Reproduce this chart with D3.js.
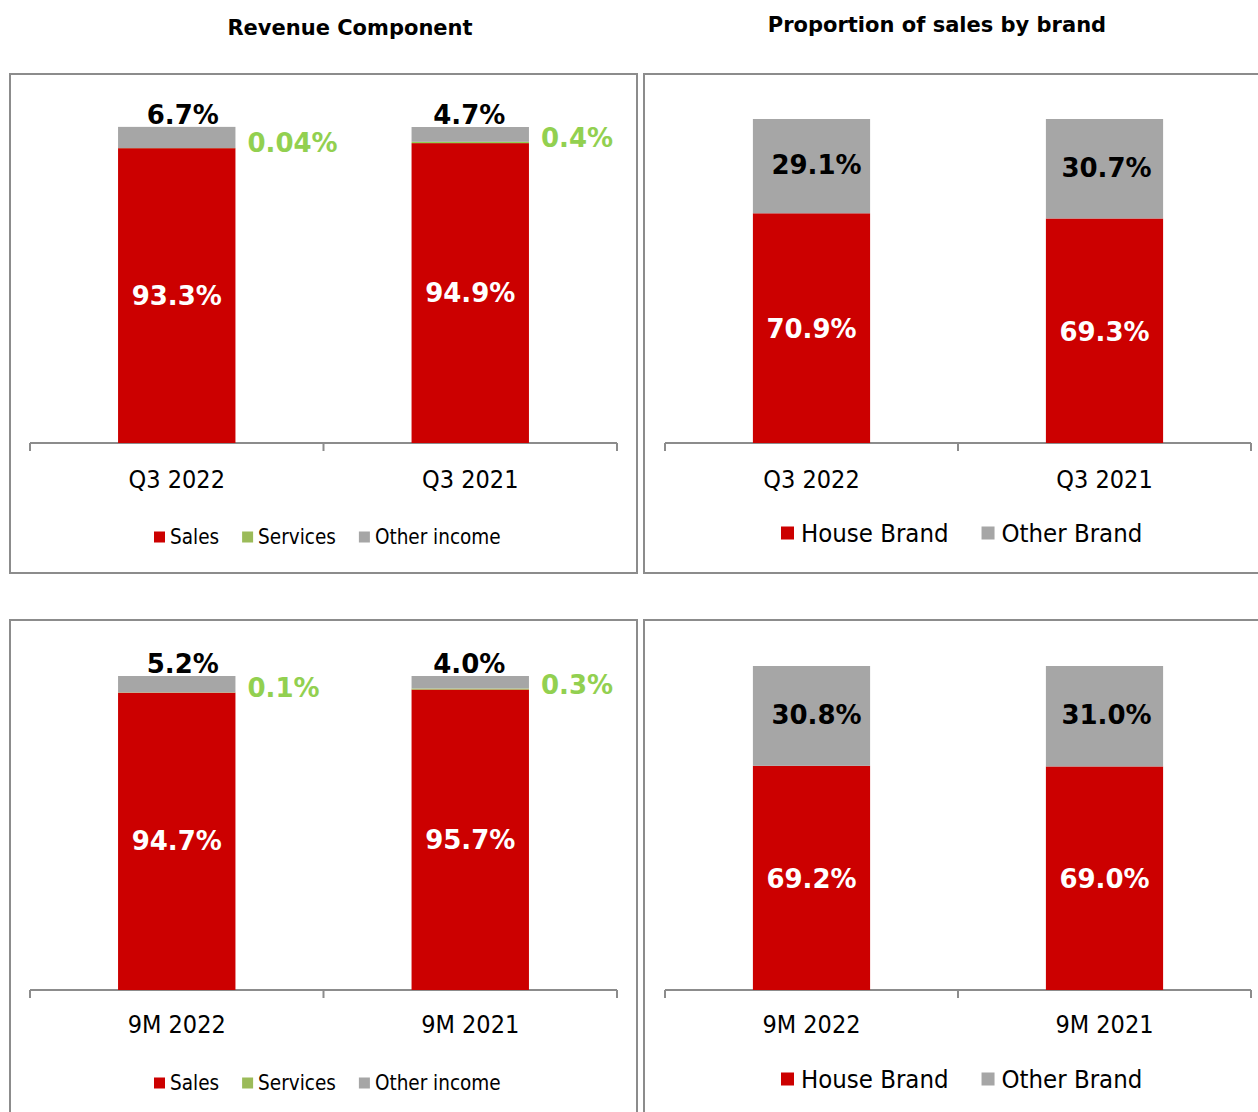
<!DOCTYPE html>
<html>
<head>
<meta charset="utf-8">
<script src="https://cdn.jsdelivr.net/npm/d3@7"></script>
<style>
  body { margin: 0; background: #fff; }
  svg { display: block; }
  .cond { font-family: "DejaVu Sans Condensed", "DejaVu Sans", sans-serif; font-stretch: condensed; }
  .bold { font-family: "DejaVu Sans", Verdana, sans-serif; font-weight: bold; }
</style>
</head>
<body>
<div id="chart"></div>
<script>
// data
var q3Periods = ["Q3 2022", "Q3 2021"];
var ytdPeriods = ["9M 2022", "9M 2021"];

var q3Sales = [93.3, 94.9];
var q3Services = [0.04, 0.4];
var q3Other = [6.7, 4.7];

var ytdSales = [94.7, 95.7];
var ytdServices = [0.1, 0.3];
var ytdOther = [5.2, 4.0];

var q3House = [70.9, 69.3];
var q3OtherBrand = [29.1, 30.7];

var ytdHouse = [69.2, 69.0];
var ytdOtherBrand = [30.8, 31.0];

var revenueSeries = ["Sales", "Services", "Other income"];
var brandSeries = ["House Brand", "Other Brand"];

var RED = "#cc0000", GRAY = "#a6a6a6", GREEN = "#9bbb59", GREEN_LABEL = "#92d050";

var width = 1258, height = 1112;

var svg = d3.select("#chart").append("svg")
  .attr("width", width)
  .attr("height", height);

function fmt(v) {
  return (v < 0.1 ? v.toFixed(2) : v.toFixed(1)) + "%";
}

svg.append("text")
  .attr("class", "bold")
  .attr("x", 350).attr("y", 28)
  .attr("text-anchor", "middle")
  .attr("dominant-baseline", "central")
  .style("font-size", "21px")
  .text("Revenue Component");

svg.append("text")
  .attr("class", "bold")
  .attr("x", 937).attr("y", 25)
  .attr("text-anchor", "middle")
  .attr("dominant-baseline", "central")
  .style("font-size", "21px")
  .text("Proportion of sales by brand");

// draws frame, axis, category labels and legend; returns scales
function drawPanel(p) {
  var g = svg.append("g");

  g.append("rect")
    .attr("x", p.frame[0]).attr("y", p.frame[1])
    .attr("width", p.frame[2]).attr("height", p.frame[3])
    .attr("fill", "none")
    .attr("stroke", "#8c8c8c")
    .attr("stroke-width", 2);

  var x = d3.scaleBand()
    .domain(p.periods)
    .range(p.xRange)
    .padding(0);

  var y = d3.scaleLinear()
    .domain([0, 100])
    .range([p.axisY, p.axisY - p.plotH]);

  // axis line with tick marks between categories
  g.append("line")
    .attr("x1", p.xRange[0]).attr("x2", p.xRange[1])
    .attr("y1", p.axisY).attr("y2", p.axisY)
    .attr("stroke", "#8c8c8c").attr("stroke-width", 2);

  var tickXs = p.periods.map(function (d) { return x(d); }).concat([p.xRange[1]]);
  g.selectAll(".tick")
    .data(tickXs)
    .enter().append("line")
    .attr("x1", function (d) { return d; })
    .attr("x2", function (d) { return d; })
    .attr("y1", p.axisY)
    .attr("y2", p.axisY + 8)
    .attr("stroke", "#8c8c8c").attr("stroke-width", 2);

  g.selectAll(".cat")
    .data(p.periods)
    .enter().append("text")
    .attr("class", "cond")
    .attr("x", function (d) { return x(d) + x.bandwidth() / 2; })
    .attr("y", p.catY)
    .attr("text-anchor", "middle")
    .attr("dominant-baseline", "central")
    .style("font-size", "25px")
    .style("fill", "#000")
    .text(function (d) { return d; });

  // legend
  var lx = p.legendX;
  p.legend.forEach(function (name, i) {
    g.append("rect")
      .attr("x", lx)
      .attr("y", p.legendY - p.swatch / 2)
      .attr("width", p.swatch).attr("height", p.swatch)
      .attr("fill", p.legendColors[i]);
    var t = g.append("text")
      .attr("class", "cond")
      .attr("x", lx + p.swatch + p.textGap)
      .attr("y", p.legendY)
      .attr("dominant-baseline", "central")
      .style("font-size", p.legendSize + "px")
      .text(name);
    lx += p.swatch + p.textGap + t.node().getComputedTextLength() + p.itemGap;
  });

  return { g: g, x: x, y: y };
}

function drawRevenue(p) {
  p.legend = revenueSeries;
  p.legendColors = [RED, GREEN, GRAY];
  p.swatch = 11; p.textGap = 5; p.itemGap = 23; p.legendSize = 20.5;
  var s = drawPanel(p);
  var x = s.x, y = s.y, g = s.g;

  var rows = p.periods.map(function (d, i) {
    return { period: d, sales: p.sales[i], services: p.services[i], other: p.other[i] };
  });
  var stack = d3.stack().keys(["sales", "services", "other"])(rows);
  var colors = { sales: RED, services: GREEN_LABEL, other: GRAY };

  var bw = x.bandwidth() * 0.4;
  var cx = function (d) { return x(d.data.period) + x.bandwidth() / 2; };

  g.selectAll(".layer")
    .data(stack)
    .enter().append("g")
    .attr("fill", function (d) { return colors[d.key]; })
    .selectAll("rect")
    .data(function (d) { return d; })
    .enter().append("rect")
    .attr("x", function (d) { return cx(d) - bw / 2; })
    .attr("y", function (d) { return y(d[1]); })
    .attr("width", bw)
    .attr("height", function (d) { return y(d[0]) - y(d[1]); });

  // sales labels (white, inside)
  g.selectAll(".salesLbl")
    .data(stack[0])
    .enter().append("text")
    .attr("class", "bold")
    .attr("x", cx)
    .attr("y", function (d) { return (y(d[0]) + y(d[1])) / 2; })
    .attr("text-anchor", "middle")
    .attr("dominant-baseline", "central")
    .style("font-size", "26px")
    .style("fill", "#fff")
    .text(function (d) { return fmt(d.data.sales); });

  // services labels (green, right of bar)
  g.selectAll(".servLbl")
    .data(stack[1])
    .enter().append("text")
    .attr("class", "bold")
    .attr("x", function (d) { return cx(d) + bw / 2 + 12; })
    .attr("y", function (d) { return y(d[0]) - 5; })
    .attr("dominant-baseline", "central")
    .style("font-size", "26px")
    .style("fill", GREEN_LABEL)
    .text(function (d) { return fmt(d.data.services); });

  // other income labels (black, above bar)
  g.selectAll(".otherLbl")
    .data(stack[2])
    .enter().append("text")
    .attr("class", "bold")
    .attr("x", function (d, i) { return cx(d) + p.otherDx[i]; })
    .attr("y", function (d) { return y(d[1]) - 3; })
    .attr("text-anchor", "middle")
    .style("font-size", "26px")
    .style("fill", "#000")
    .text(function (d) { return fmt(d.data.other); });
}

function drawBrand(p) {
  p.legend = brandSeries;
  p.legendColors = [RED, GRAY];
  p.swatch = 13; p.textGap = 7; p.itemGap = 33; p.legendSize = 25.5;
  var s = drawPanel(p);
  var x = s.x, y = s.y, g = s.g;

  var rows = p.periods.map(function (d, i) {
    return { period: d, house: p.house[i], otherBrand: p.otherBrand[i] };
  });
  var stack = d3.stack().keys(["house", "otherBrand"])(rows);
  var colors = { house: RED, otherBrand: GRAY };
  var labelColors = { house: "#fff", otherBrand: "#000" };
  var labelShift = { house: [0, 0], otherBrand: [5, 2] };

  var bw = x.bandwidth() * 0.4;
  var cx = function (d) { return x(d.data.period) + x.bandwidth() / 2; };

  var layers = g.selectAll(".layer")
    .data(stack)
    .enter().append("g");

  layers.selectAll("rect")
    .data(function (d) { return d; })
    .enter().append("rect")
    .attr("x", function (d) { return cx(d) - bw / 2; })
    .attr("y", function (d) { return y(d[1]); })
    .attr("width", bw)
    .attr("height", function (d) { return y(d[0]) - y(d[1]); })
    .attr("fill", function () { return colors[this.parentNode.__data__.key]; });

  layers.each(function (layer) {
    d3.select(this).selectAll("text")
      .data(layer)
      .enter().append("text")
      .attr("class", "bold")
      .attr("x", function (d, i) { return cx(d) + labelShift[layer.key][i]; })
      .attr("y", function (d) { return (y(d[0]) + y(d[1])) / 2 + (layer.key === "otherBrand" ? -1 : 1); })
      .attr("text-anchor", "middle")
      .attr("dominant-baseline", "central")
      .style("font-size", "26px")
      .style("fill", labelColors[layer.key])
      .text(function (d) { return fmt(d.data[layer.key]); });
  });
}

drawRevenue({
  frame: [10, 74, 627, 499], periods: q3Periods,
  sales: q3Sales, services: q3Services, other: q3Other,
  xRange: [30, 617], axisY: 443, plotH: 316, catY: 479,
  legendX: 154, legendY: 537, otherDx: [6, -1]
});

drawRevenue({
  frame: [10, 620, 627, 520], periods: ytdPeriods,
  sales: ytdSales, services: ytdServices, other: ytdOther,
  xRange: [30, 617], axisY: 990, plotH: 314, catY: 1024,
  legendX: 154, legendY: 1083, otherDx: [6, -1]
});

drawBrand({
  frame: [644, 74, 640, 499], periods: q3Periods,
  house: q3House, otherBrand: q3OtherBrand,
  xRange: [665, 1251], axisY: 443, plotH: 324, catY: 479,
  legendX: 781, legendY: 533
});

drawBrand({
  frame: [644, 620, 640, 520], periods: ytdPeriods,
  house: ytdHouse, otherBrand: ytdOtherBrand,
  xRange: [665, 1251], axisY: 990, plotH: 324, catY: 1024,
  legendX: 781, legendY: 1079
});
</script>
</body>
</html>
